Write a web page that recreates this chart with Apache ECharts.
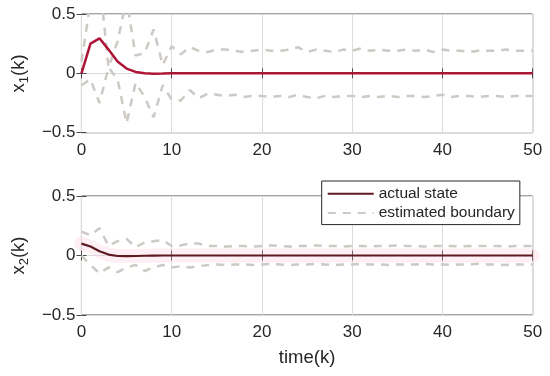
<!DOCTYPE html>
<html>
<head>
<meta charset="utf-8">
<script src="https://cdn.jsdelivr.net/npm/echarts@6/dist/echarts.min.js"></script>
<style>html,body{margin:0;padding:0;background:#fff}#c{width:550px;height:376px}</style>
</head>
<body>
<div id="c"></div>
<script>
const timeK = [0,1,2,3,4,5,6,7,8,9,10,11,12,13,14,15,16,17,18,19,20,21,22,23,24,25,26,27,28,29,30,31,32,33,34,35,36,37,38,39,40,41,42,43,44,45,46,47,48,49,50];
const xTicks = [0,10,20,30,40,50];
const yTicks = [-0.5,0,0.5];

const x1Actual = [0,0.25,0.295,0.2,0.1,0.04,0.012,0,-0.003,-0.002,0,0,0,0,0,0,0,0,0,0,0,0,0,0,0,0,0,0,0,0,0,0,0,0,0,0,0,0,0,0,0,0,0,0,0,0,0,0,0,0,0];
const x1Upper = [0.1,0.6,0.8,0.05,0.27,0.62,0.15,0.17,0.37,0.07,0.23,0.16,0.22,0.19,
  0.18,0.2,0.2,0.19,0.18,0.19,0.2,0.19,0.19,0.2,0.22,0.18,0.2,0.19,0.18,0.2,0.19,0.21,0.19,0.2,0.19,0.19,0.2,0.19,0.2,0.18,0.2,0.19,0.19,0.18,0.19,0.19,0.19,0.2,0.19,0.19,0.19];
const x1Lower = [-0.1,-0.05,-0.25,0.05,-0.05,-0.42,-0.08,-0.2,-0.37,-0.1,-0.22,-0.23,-0.14,-0.21,
  -0.17,-0.18,-0.19,-0.18,-0.2,-0.19,-0.19,-0.2,-0.19,-0.2,-0.18,-0.2,-0.21,-0.19,-0.2,-0.19,-0.19,-0.2,-0.19,-0.2,-0.19,-0.2,-0.19,-0.19,-0.2,-0.19,-0.18,-0.2,-0.19,-0.19,-0.2,-0.19,-0.19,-0.2,-0.19,-0.19,-0.19];

const x2Actual = [0.1,0.075,0.035,0.008,-0.004,-0.005,-0.004,-0.002,-0.001,0,0,0,0,0,0,0,0,0,0,0,0,0,0,0,0,0,0,0,0,0,0,0,0,0,0,0,0,0,0,0,0,0,0,0,0,0,0,0,0,0,0];
const x2Upper = [0.2,0.17,0.23,0.08,0.12,0.14,0.07,0.11,0.12,0.13,0.08,0.085,0.1,0.1,0.08,
  0.08,0.075,0.08,0.08,0.075,0.08,
  0.085,0.08,0.075,0.08,0.08,0.085,
  0.08,0.08,0.075,0.08,0.08,0.075,
  0.08,0.08,0.085,0.08,0.08,0.075,
  0.08,0.08,0.08,0.075,0.08,0.08,
  0.08,0.08,0.075,0.08,0.08,0.08];
const x2Lower = [0,-0.08,-0.15,-0.1,-0.14,-0.1,-0.08,-0.13,-0.1,-0.08,-0.1,-0.09,-0.1,-0.09,-0.08,
  -0.075,-0.08,-0.075,-0.075,-0.08,-0.075,
  -0.07,-0.075,-0.08,-0.075,-0.075,-0.07,
  -0.075,-0.08,-0.075,-0.075,-0.07,-0.075,
  -0.075,-0.08,-0.075,-0.075,-0.075,-0.07,
  -0.075,-0.075,-0.08,-0.075,-0.075,-0.07,
  -0.075,-0.075,-0.08,-0.075,-0.075,-0.075];

const FONT = '"Liberation Sans", Arial, Helvetica, sans-serif';
const INK = '#262626';
const BOX = '#4a4a4a';
const pair = arr => arr.map((v, i) => [timeK[i], v]);
const fmtY = v => v === 0 ? '0' : (v < 0 ? '\u2212' : '') + Math.abs(v);

const gridPos = [
  {left: 76.7, top: 14, width: 456, height: 118.7},
  {left: 76.7, top: 196, width: 456, height: 119}
];

function xAxes(g, withName) {
  return [
    {
      type: 'value', gridIndex: g, position: 'bottom',
      min: xTicks[0], max: xTicks[xTicks.length - 1], interval: 10,
      axisLine: {show: false},
      axisTick: {show: true, inside: true, length: 5, lineStyle: {color: BOX}},
      axisLabel: {show: true, margin: 9, fontSize: 17, color: INK, fontFamily: FONT},
      splitLine: {show: true, lineStyle: {color: '#dcdcdc', width: 1}},
      name: withName ? 'time(k)' : '', nameLocation: 'middle', nameGap: 33,
      nameTextStyle: {fontSize: 18.5, color: INK, fontFamily: FONT}
    },
    {
      type: 'value', gridIndex: g, position: 'top',
      min: xTicks[0], max: xTicks[xTicks.length - 1], interval: 10,
      axisLine: {show: false},
      axisTick: {show: true, inside: true, length: 5, lineStyle: {color: BOX}},
      axisLabel: {show: false}, splitLine: {show: false}
    }
  ];
}
function yAxes(g, sub) {
  return [
    {
      type: 'value', gridIndex: g, position: 'left',
      min: yTicks[0], max: yTicks[yTicks.length - 1], interval: 0.5,
      axisLine: {show: false},
      axisTick: {show: true, inside: true, length: 5, lineStyle: {color: BOX}},
      axisLabel: {show: true, margin: 6, fontSize: 17, color: INK, fontFamily: FONT, formatter: fmtY},
      splitLine: {show: true, lineStyle: {color: '#dcdcdc', width: 1}},
      name: '{n|x}{s|' + sub + '}{n|(k)}', nameLocation: 'middle', nameGap: 46, nameRotate: 90,
      nameTextStyle: {
        color: INK, fontFamily: FONT,
        rich: {
          n: {fontSize: 18.5, color: INK, fontFamily: FONT, lineHeight: 24, verticalAlign: 'middle'},
          s: {fontSize: 13, color: INK, fontFamily: FONT, lineHeight: 24, verticalAlign: 'bottom', padding: [10, 0, 0, 0]}
        }
      }
    },
    {
      type: 'value', gridIndex: g, position: 'right',
      min: yTicks[0], max: yTicks[yTicks.length - 1], interval: 0.5,
      axisLine: {show: false},
      axisTick: {show: true, inside: true, length: 5, lineStyle: {color: BOX}},
      axisLabel: {show: false}, splitLine: {show: false}
    }
  ];
}

const dashStyle = {color: '#cdc9c4', width: 2.5, type: [8, 7]};

const option = {
  animation: false,
  backgroundColor: '#fff',
  grid: gridPos.map(p => Object.assign({show: true, borderColor: BOX, borderWidth: 1, backgroundColor: 'transparent'}, p)),
  xAxis: [].concat(xAxes(0, false), xAxes(1, true)),
  yAxis: [].concat(yAxes(0, '1'), yAxes(1, '2')),
  legend: {
    orient: 'vertical', left: 321.7, top: 181,
    padding: [3, 5, 2, 5], itemGap: 0, itemWidth: 46, itemHeight: 10,
    backgroundColor: '#fff', borderColor: INK, borderWidth: 1, borderRadius: 0,
    itemStyle: {opacity: 0},
    textStyle: {fontSize: 15.5, color: INK, fontFamily: FONT, lineHeight: 19.3},
    data: ['actual state', 'estimated boundary']
  },
  series: [
    {name: 'estimated boundary', type: 'line', xAxisIndex: 2, yAxisIndex: 2, data: pair(x2Upper), symbol: 'none', lineStyle: dashStyle, itemStyle: {color: '#cdc9c4'}, z: 2},
    {name: 'estimated boundary', type: 'line', xAxisIndex: 2, yAxisIndex: 2, data: pair(x2Lower), symbol: 'none', lineStyle: dashStyle, itemStyle: {color: '#cdc9c4'}, z: 2},
    {name: 'halo', type: 'line', xAxisIndex: 2, yAxisIndex: 2, data: pair(x2Actual), symbol: 'none', clip: false, lineStyle: {color: 'rgba(250,190,215,0.25)', width: 14, cap: 'round'}, z: 1, silent: true},
    {name: 'actual state', type: 'line', xAxisIndex: 2, yAxisIndex: 2, data: pair(x2Actual), symbol: 'none', lineStyle: {color: '#5c1a20', width: 2.2}, itemStyle: {color: '#5c1a20'}, z: 3},
    {name: 'x1 upper', type: 'line', xAxisIndex: 0, yAxisIndex: 0, data: pair(x1Upper), symbol: 'none', lineStyle: dashStyle, z: 2},
    {name: 'x1 lower', type: 'line', xAxisIndex: 0, yAxisIndex: 0, data: pair(x1Lower), symbol: 'none', lineStyle: dashStyle, z: 2},
    {name: 'x1 actual', type: 'line', xAxisIndex: 0, yAxisIndex: 0, data: pair(x1Actual), symbol: 'none', lineStyle: {color: '#ad1537', width: 2.5}, z: 3}
  ]
};
echarts.init(document.getElementById('c'), null, {renderer: 'canvas'}).setOption(option);
</script>
</body>
</html>
